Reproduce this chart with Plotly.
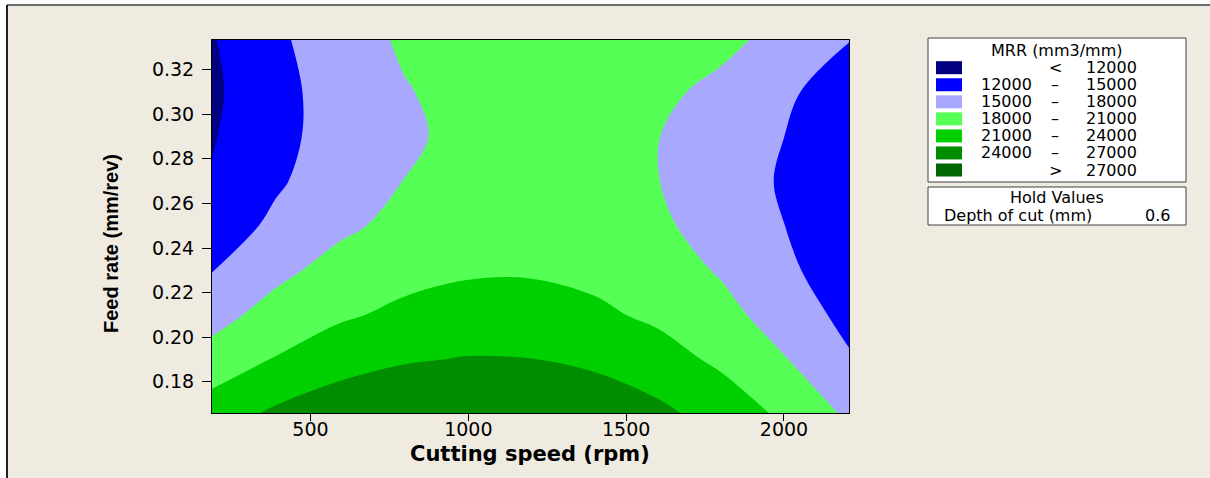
import plotly.graph_objects as go

# ---------------- data ----------------
speed = [188, 390, 590, 795, 995, 1195, 1400, 1600, 1800, 2000, 2206]
feed = [0.166, 0.19, 0.21, 0.23, 0.25, 0.27, 0.29, 0.31, 0.3333]

mrr_feed_0166 = [22560, 24480, 25850, 26690, 26990, 26750, 25970, 24660, 22800, 20430, 17480]
mrr_feed_0190 = [19100, 21190, 22730, 23720, 24160, 24060, 23400, 22210, 20450, 18170, 15310]
mrr_feed_0210 = [17000, 19060, 20590, 21610, 22100, 22080, 21530, 20470, 18870, 16780, 14130]
mrr_feed_0230 = [14900, 17300, 18960, 20100, 20690, 20760, 20290, 19300, 17750, 15700, 13080]
mrr_feed_0250 = [13270, 15630, 17450, 18740, 19470, 19670, 19320, 18430, 16990, 15030, 12500]
mrr_feed_0270 = [12200, 14600, 16590, 18020, 18870, 19170, 18890, 18050, 16640, 14680, 12130]
mrr_feed_0290 = [11800, 14180, 16170, 17640, 18550, 18920, 18750, 18050, 16790, 15010, 12660]
mrr_feed_0310 = [11500, 14100, 16230, 17820, 18830, 19300, 19210, 18560, 17340, 15590, 13250]
mrr_feed_0333 = [11800, 14470, 16660, 18350, 19470, 20080, 20150, 19690, 18680, 17160, 15090]

mrr = [mrr_feed_0166, mrr_feed_0190, mrr_feed_0210, mrr_feed_0230, mrr_feed_0250,
       mrr_feed_0270, mrr_feed_0290, mrr_feed_0310, mrr_feed_0333]

levels = [12000, 15000, 18000, 21000, 24000, 27000]
band_colors = ["#000080", "#0000FF", "#A8A8FF", "#55FF55", "#00D000", "#008E00", "#006600"]

x_ticks = [500, 1000, 1500, 2000]
y_ticks = [0.18, 0.20, 0.22, 0.24, 0.26, 0.28, 0.30, 0.32]

legend_title = "MRR (mm3/mm)"
hold_title = "Hold Values"
hold_name = "Depth of cut (mm)"
hold_value = "0.6"
x_title = "Cutting speed (rpm)"
y_title = "Feed rate (mm/rev)"

# ---------------- layout geometry (pixels) ----------------
W, H = 1210, 478
L, R, T, B = 212, 849, 40, 413
BG = "#EFEBE1"


def px(xp):
    return (xp - L) / (R - L)


def py(yp):
    return (B - yp) / (B - T)


# stepped colorscale: band i sampled at (2i+1)/12 of the colour domain
n = len(band_colors)
bounds = [0, 1 / 6, 2 / 6, 3 / 6, 4 / 6, 5 / 6, 0.96, 1.0]
colorscale = []
for i, c in enumerate(band_colors):
    colorscale.append([bounds[i], c])
    colorscale.append([bounds[i + 1], c])

fig = go.Figure()
fig.add_trace(go.Contour(
    x=speed, y=feed, z=mrr,
    colorscale=colorscale,
    showscale=False,
    contours=dict(start=levels[0], end=levels[-1], size=levels[1] - levels[0], coloring="fill"),
    line=dict(width=0, smoothing=1.0),
    hoverinfo="skip",
))

FONT = "DejaVu Sans, Verdana, sans-serif"

fig.update_layout(
    width=W, height=H, autosize=False,
    margin=dict(l=L, r=W - R, t=T, b=H - B, pad=0),
    paper_bgcolor=BG, plot_bgcolor=BG,
    showlegend=False,
    font=dict(family=FONT, color="black", size=19),
    xaxis=dict(range=[speed[0], speed[-1]], tickvals=x_ticks, ticktext=[str(v) for v in x_ticks],
               ticks="outside", ticklen=7, tickwidth=1, tickcolor="black",
               showline=True, linecolor="black", linewidth=1, mirror=True,
               showgrid=False, zeroline=False, tickfont=dict(size=19, family=FONT),
               ticklabelstandoff=-8),
    yaxis=dict(range=[feed[0], feed[-1]], tickvals=y_ticks, ticktext=[f"{v:.2f}" for v in y_ticks],
               ticks="outside", ticklen=9, tickwidth=1, tickcolor="black",
               showline=True, linecolor="black", linewidth=1, mirror=True,
               showgrid=False, zeroline=False, tickfont=dict(size=19, family=FONT),
               ticklabelstandoff=4),
)

shapes = []
annotations = []

# outer frame: white outside, dark line on top and left
shapes.append(dict(type="rect", xref="paper", yref="paper", x0=px(0), x1=px(W), y0=py(0), y1=py(5),
                   fillcolor="white", line=dict(width=0), layer="below"))
shapes.append(dict(type="rect", xref="paper", yref="paper", x0=px(0), x1=px(7), y0=py(0), y1=py(H),
                   fillcolor="white", line=dict(width=0), layer="below"))
shapes.append(dict(type="line", xref="paper", yref="paper", x0=px(7), x1=px(W), y0=py(5), y1=py(5),
                   line=dict(color="#6E6E6E", width=2)))
shapes.append(dict(type="line", xref="paper", yref="paper", x0=px(7), x1=px(7), y0=py(5), y1=py(H),
                   line=dict(color="#202020", width=2)))

# axis titles
annotations.append(dict(text=f"<b>{x_title}</b>", xref="paper", yref="paper", x=px(530), y=py(454),
                        xanchor="center", yanchor="middle", showarrow=False,
                        font=dict(family="DejaVu Sans, Verdana, sans-serif", size=21, color="black")))
annotations.append(dict(text=f"<b>{y_title}</b>", xref="paper", yref="paper", x=px(111), y=py(243),
                        xanchor="center", yanchor="middle", showarrow=False, textangle=-90,
                        font=dict(family="Liberation Sans, Arial, sans-serif",
                                  size=20, color="black")))

# legend box
LX0, LX1 = 928, 1186
LFS = 16
shapes.append(dict(type="rect", xref="paper", yref="paper", x0=px(LX0), x1=px(LX1), y0=py(182), y1=py(38),
                   fillcolor="white", line=dict(color="#404040", width=1)))
annotations.append(dict(text=legend_title, xref="paper", yref="paper", x=px(1057), y=py(50),
                        xanchor="center", yanchor="middle", showarrow=False,
                        font=dict(family=FONT, size=LFS, color="black")))

row0, step = 67.7, 17.05
for i, c in enumerate(band_colors):
    yc = row0 + i * step
    shapes.append(dict(type="rect", xref="paper", yref="paper", x0=px(936), x1=px(962),
                       y0=py(yc + 6.5), y1=py(yc - 6.5), fillcolor=c, line=dict(width=0)))
    if i == 0:
        left, mid, right = "", "<", str(levels[0])
    elif i == n - 1:
        left, mid, right = "", ">", str(levels[-1])
    else:
        left, mid, right = str(levels[i - 1]), "\u2013", str(levels[i])
    if left:
        annotations.append(dict(text=left, xref="paper", yref="paper", x=px(1034), y=py(yc),
                                xanchor="right", yanchor="middle", showarrow=False,
                                font=dict(family=FONT, size=LFS, color="black")))
    annotations.append(dict(text=mid, xref="paper", yref="paper", x=px(1055), y=py(yc),
                            xanchor="center", yanchor="middle", showarrow=False,
                            font=dict(family=FONT, size=LFS, color="black")))
    annotations.append(dict(text=right, xref="paper", yref="paper", x=px(1139), y=py(yc),
                            xanchor="right", yanchor="middle", showarrow=False,
                            font=dict(family=FONT, size=LFS, color="black")))

# hold values box
shapes.append(dict(type="rect", xref="paper", yref="paper", x0=px(LX0), x1=px(LX1), y0=py(225), y1=py(187),
                   fillcolor="white", line=dict(color="#404040", width=1)))
annotations.append(dict(text=hold_title, xref="paper", yref="paper", x=px(1057), y=py(198),
                        xanchor="center", yanchor="middle", showarrow=False,
                        font=dict(family=FONT, size=LFS, color="black")))
annotations.append(dict(text=hold_name, xref="paper", yref="paper", x=px(942), y=py(215.5),
                        xanchor="left", yanchor="middle", showarrow=False,
                        font=dict(family=FONT, size=LFS, color="black")))
annotations.append(dict(text=hold_value, xref="paper", yref="paper", x=px(1172), y=py(215.5),
                        xanchor="right", yanchor="middle", showarrow=False,
                        font=dict(family=FONT, size=LFS, color="black")))

fig.update_layout(shapes=shapes, annotations=annotations)
fig.write_html("out.html")
